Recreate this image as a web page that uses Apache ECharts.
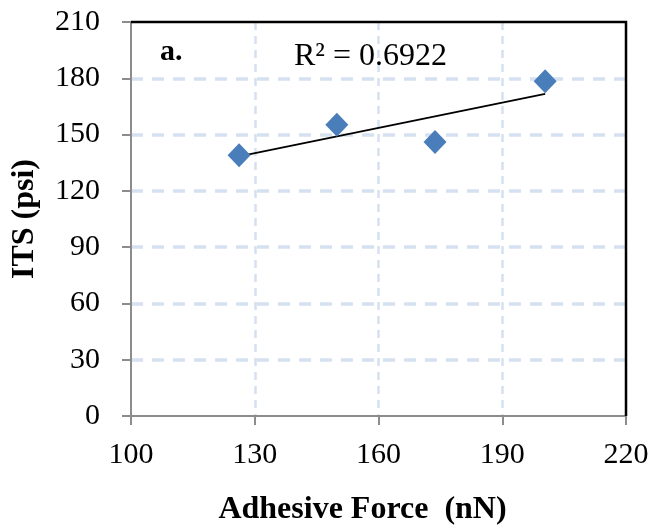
<!DOCTYPE html>
<html>
<head>
<meta charset="utf-8">
<script src="https://cdn.jsdelivr.net/npm/echarts@6/dist/echarts.min.js"></script>
<style>
  html, body { margin: 0; padding: 0; background: #fff; }
  #chart { width: 654px; height: 528px; }
</style>
</head>
<body>
<div id="chart"></div>
<script>
// Adhesive force (nN) against indirect tensile strength (psi)
const adhesiveForce = [126.2, 149.9, 173.7, 200.4];
const itsValues = [139.0, 155.3, 146.1, 178.4];
const xTicks = [100, 130, 160, 190, 220];
const yTicks = [0, 30, 60, 90, 120, 150, 180, 210];
const panelLabel = 'a.';
const rSquaredText = 'R\u00B2 = 0.6922';

// Least-squares linear trend through the measured points
function linearFit(xs, ys) {
  const n = xs.length;
  const mx = xs.reduce((a, b) => a + b, 0) / n;
  const my = ys.reduce((a, b) => a + b, 0) / n;
  let sxy = 0, sxx = 0;
  for (let i = 0; i < n; i++) {
    sxy += (xs[i] - mx) * (ys[i] - my);
    sxx += (xs[i] - mx) * (xs[i] - mx);
  }
  const slope = sxy / sxx;
  return { slope, intercept: my - slope * mx };
}
const fit = linearFit(adhesiveForce, itsValues);
const xMinData = Math.min(...adhesiveForce);
const xMaxData = Math.max(...adhesiveForce);
const trendPoints = [
  [xMinData, fit.intercept + fit.slope * xMinData],
  [xMaxData, fit.intercept + fit.slope * xMaxData]
];

const serif = '"Liberation Serif", "Times New Roman", serif';
const xMin = xTicks[0], xMax = xTicks[xTicks.length - 1];
const yMin = yTicks[0], yMax = yTicks[yTicks.length - 1];

const chart = echarts.init(document.getElementById('chart'), null, { renderer: 'canvas' });

chart.setOption({
  animation: false,
  backgroundColor: '#ffffff',
  grid: {
    left: 131, right: 28, top: 22, bottom: 112,
    outerBoundsMode: 'none',
    containLabel: false
  },
  xAxis: {
    type: 'value',
    min: xMin, max: xMax, interval: 30,
    name: 'Adhesive Force  (nN)',
    nameLocation: 'middle',
    nameGap: 78,
    nameTextStyle: { fontFamily: serif, fontWeight: 'bold', fontSize: 32, color: '#000', padding: [0, 32, 0, 0] },
    axisLine: { show: true, onZero: false, lineStyle: { color: '#8c8c8c', width: 2 } },
    axisTick: { show: true, inside: false, length: 9, lineStyle: { color: '#8c8c8c', width: 2 } },
    axisLabel: { margin: 24, fontFamily: serif, fontSize: 30, color: '#000' },
    splitLine: { show: true, showMinLine: false, showMaxLine: false, lineStyle: { color: '#d5e1f0', width: 2.5, type: [8, 6] } }
  },
  yAxis: {
    type: 'value',
    min: yMin, max: yMax, interval: 30,
    name: 'ITS (psi)',
    nameLocation: 'middle',
    nameGap: 90,
    nameRotate: 90,
    nameTextStyle: { fontFamily: serif, fontWeight: 'bold', fontSize: 32, color: '#000' },
    axisLine: { show: true, onZero: false, lineStyle: { color: '#8c8c8c', width: 2 } },
    axisTick: { show: true, inside: false, length: 9, lineStyle: { color: '#8c8c8c', width: 2 } },
    axisLabel: { margin: 31, fontFamily: serif, fontSize: 30, color: '#000' },
    splitLine: { show: true, showMinLine: false, showMaxLine: false, lineStyle: { color: '#d5e1f0', width: 3.5, type: [12, 9] } }
  },
  series: [
    {
      type: 'line',
      data: trendPoints,
      showSymbol: false,
      symbol: 'none',
      lineStyle: { color: '#000000', width: 1.8 },
      z: 3
    },
    {
      type: 'scatter',
      data: adhesiveForce.map((x, i) => [x, itsValues[i]]),
      symbol: 'diamond',
      symbolSize: [23, 24],
      itemStyle: { color: '#4a7ebb', opacity: 1 },
      z: 4
    }
  ]
});

// Black frame along the top and right edges of the plot area, placed from the axis scales
const topLeft = chart.convertToPixel({ gridIndex: 0 }, [xMin, yMax]);
const bottomRight = chart.convertToPixel({ gridIndex: 0 }, [xMax, yMin]);
chart.setOption({
  graphic: [
    {
      type: 'polyline',
      z: 10,
      shape: { points: [[topLeft[0], topLeft[1]], [bottomRight[0], topLeft[1]], [bottomRight[0], bottomRight[1]]] },
      style: { stroke: '#000000', lineWidth: 2.5, fill: null }
    },
    {
      type: 'text', left: 160, top: 37,
      style: { text: panelLabel, font: 'bold 30px ' + serif, fill: '#000' }
    },
    {
      type: 'text', left: 294, top: 41,
      style: { text: rSquaredText, font: '32px ' + serif, fill: '#000' }
    }
  ]
});
</script>
</body>
</html>
